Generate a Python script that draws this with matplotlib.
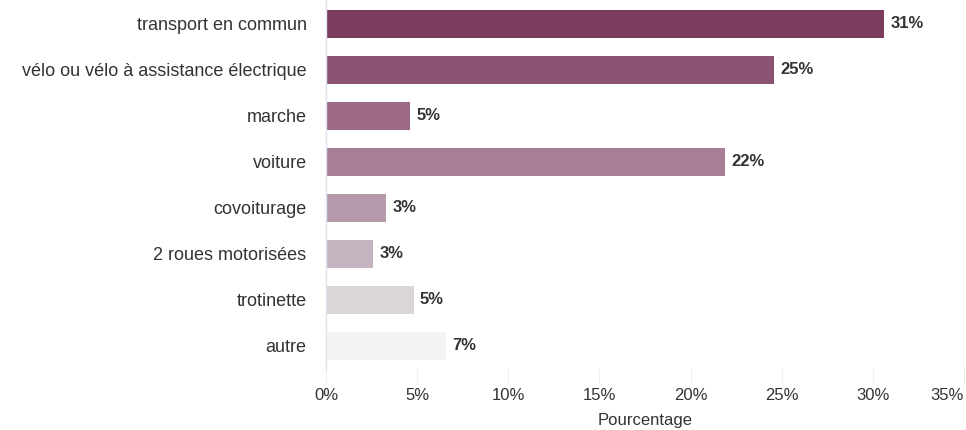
import matplotlib
matplotlib.use("Agg")
import matplotlib.pyplot as plt

plt.rcParams['font.family'] = ['Liberation Sans', 'DejaVu Sans']

categories = [
    "transport en commun",
    "vélo ou vélo à assistance électrique",
    "marche",
    "voiture",
    "covoiturage",
    "2 roues motorisées",
    "trotinette",
    "autre",
]
values = [30.6, 24.6, 4.6, 21.9, 3.3, 2.6, 4.8, 6.6]
bar_colors = ["#7d3d5e", "#8a5371", "#9d6a85", "#a87d96",
              "#b49aab", "#c5b4bf", "#dbd4d9", "#f4f2f3"]
xticks = [0, 5, 10, 15, 20, 25, 30, 35]

fig = plt.figure(figsize=(9.66, 4.30), dpi=100)
ax = fig.add_axes([0.3375, 0.142, 0.6605, 0.858])

ypos = list(range(len(categories)))
ax.barh(ypos, values, height=0.6, color=bar_colors)
for y, v in zip(ypos, values):
    ax.text(v + 0.35, y, f"{v:.0f}%", va='center', ha='left',
            fontsize=12, color='#333333', fontweight='bold')

ax.set_ylim(len(categories) - 0.5, -0.52)
ax.set_xlim(0, 35)
ax.set_yticks(ypos)
ax.set_yticklabels(categories, fontsize=13, color='#333333')
ax.set_xticks(xticks)
ax.set_xticklabels([f"{t}%" for t in xticks], fontsize=12, color='#333333')
ax.get_xticklabels()[-1].set_horizontalalignment('right')

ax.tick_params(axis='y', length=0, pad=14)
ax.tick_params(axis='x', length=10, width=0.8, color='#eeeeee', pad=4, direction='out')
for s in ['top', 'right', 'bottom']:
    ax.spines[s].set_visible(False)
ax.spines['left'].set_color('#dde4ee')
ax.spines['left'].set_linewidth(1.0)

ax.set_xlabel("Pourcentage", fontsize=12, color='#333333', labelpad=7)

fig.savefig("out.png", dpi=100)
